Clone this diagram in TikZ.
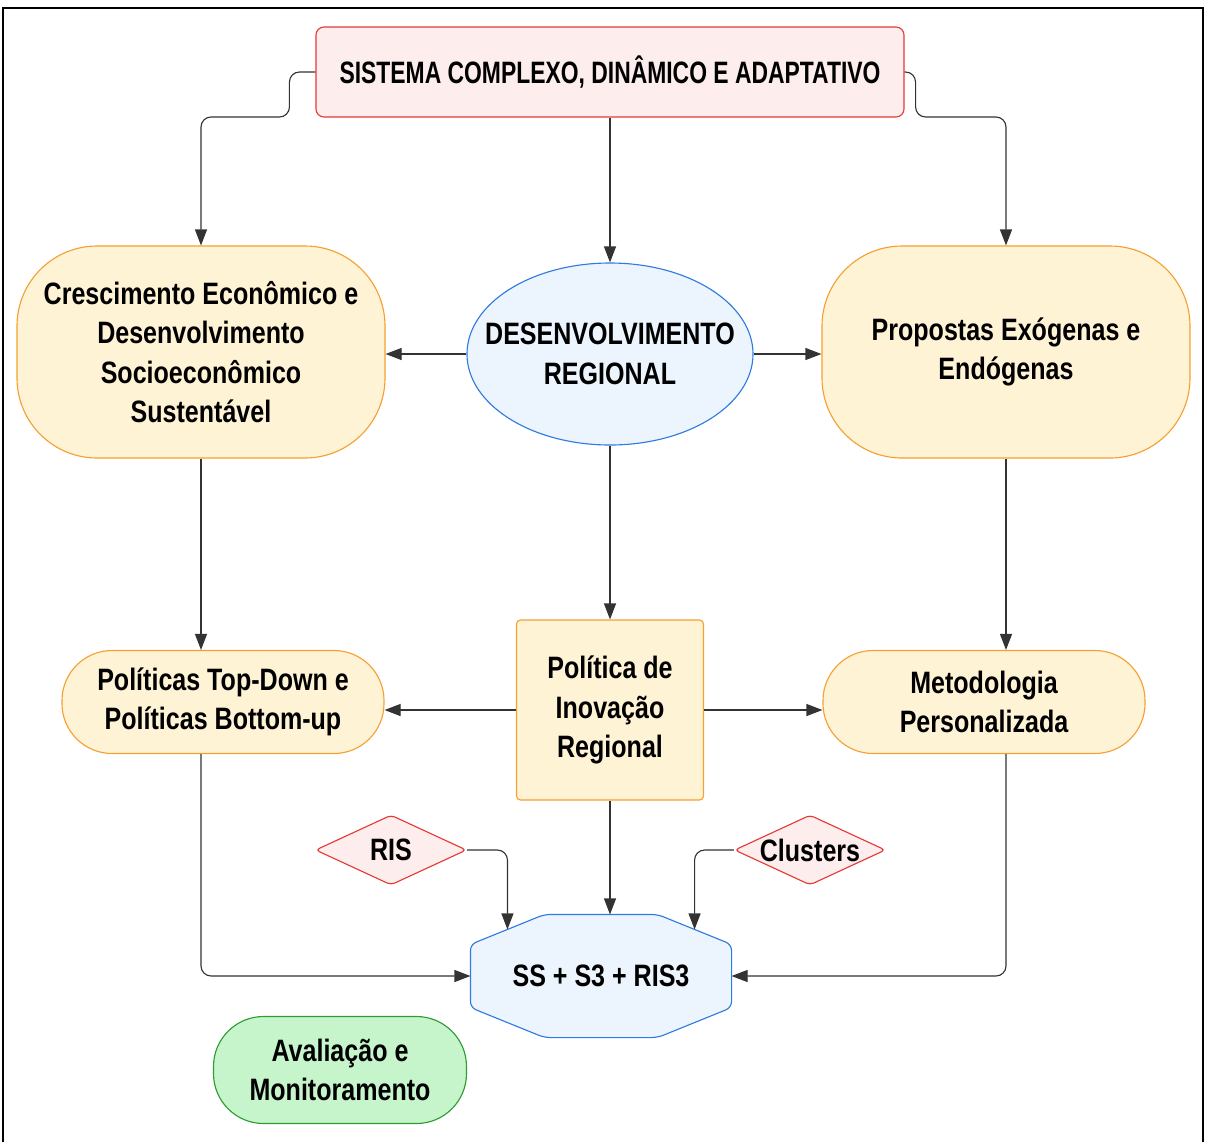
\documentclass[tikz,border=0pt]{standalone}
\usepackage{fontspec}
\setmainfont{Liberation Sans}[FakeStretch=0.81]
\newfontfamily\narrowsans{Liberation Sans}[FakeStretch=0.74]
\usetikzlibrary{shapes.geometric,arrows.meta,calc,backgrounds}

\definecolor{redline}{HTML}{E53935}
\definecolor{redfill}{HTML}{FDEDED}
\definecolor{orangeline}{HTML}{F5A033}
\definecolor{orangefill}{HTML}{FFF3D6}
\definecolor{blueline}{HTML}{2F7BE0}
\definecolor{bluefill}{HTML}{ECF4FD}
\definecolor{greenline}{HTML}{2E9B33}
\definecolor{greenfill}{HTML}{C6F5CB}
\definecolor{arrline}{HTML}{333333}

\begin{document}
\begin{tikzpicture}[x=0.25mm, y=-0.25mm,
		every node/.style = {draw, align=center, text=black, inner sep=0pt,
			line width=0.8pt, font=\fontsize{22}{28}\selectfont\bfseries},
		redbox/.style = {rectangle, rounded corners=2mm, draw=redline, fill=redfill},
		orangebox/.style = {rectangle, draw=orangeline, fill=orangefill},
		bluebox/.style = {draw=blueline, fill=bluefill, line width=0.8pt},
		greenbox/.style = {rectangle, rounded corners=12.5mm, draw=greenline, fill=greenfill},
		redchoice/.style = {diamond, aspect=2.2, rounded corners=1mm, draw=redline, fill=redfill,
			minimum width=37.75mm, minimum height=17.5mm},
		arr/.style = {draw=arrline, line width=0.8pt, rounded corners=2.5mm,
			-{Triangle[length=4mm, width=3mm]}}]

	\useasboundingbox (0,0) rectangle (1206,1141);
	\draw[line width=1.2pt] (3,1150) -- (3,8) -- (1203,8) -- (1203,1150);

	% first row
	\node[redbox, minimum width=147mm, minimum height=22.5mm] (sistema) at (610,72)
		{\narrowsans\bfseries SISTEMA COMPLEXO, DINÂMICO E ADAPTATIVO};
	% second row
	\node[orangebox, rounded corners=20mm, minimum width=92mm, minimum height=53mm]
		(crescimento) at (201,352)
		{Crescimento Econômico e\\Desenvolvimento\\Socioeconômico\\Sustentável};
	\node[bluebox, ellipse, inner xsep=-7mm, minimum width=71.5mm, minimum height=45.5mm]
		(desenvolvimento) at (610,354) {DESENVOLVIMENTO\\REGIONAL};
	\node[orangebox, rounded corners=20mm, minimum width=92mm, minimum height=53mm]
		(propostas) at (1006,352) {Propostas Exógenas e\\Endógenas};
	% third row
	\node[orangebox, rounded corners=1mm, minimum width=46.75mm, minimum height=45mm]
		(politica) at (610,710) {Política de\\Inovação\\Regional};
	\node[orangebox, rounded corners=12.5mm, minimum width=80.5mm, minimum height=25.75mm]
		(topdown) at (223,702) {Políticas Top-Down e\\Políticas Bottom-up};
	\node[orangebox, rounded corners=12.5mm, minimum width=80.5mm, minimum height=25.75mm]
		(metodologia) at (984,702) {Metodologia\\Personalizada};
	% fourth row
	\node[redchoice] (ris) at (391,850) {RIS};
	\node[redchoice] (clusters) at (810,850) {Clusters};
	\node[draw=none, minimum width=65mm, minimum height=30.5mm] (ss) at (601,976)
		{SS + S3 + RIS3};
	\begin{scope}[on background layer]
		\draw[bluebox, rounded corners=1.5mm] ([xshift=18.5mm]ss.north west)
			-- ([xshift=-18.5mm]ss.north east) -- ([yshift=-7.5mm]ss.north east)
			-- ([yshift=7.5mm]ss.south east) -- ([xshift=-18.5mm]ss.south east)
			-- ([xshift=18.5mm]ss.south west) -- ([yshift=7.5mm]ss.south west)
			-- ([yshift=-7.5mm]ss.north west) -- cycle;
	\end{scope}
	\coordinate (ssnw) at ($([xshift=18.5mm]ss.north west)!0.5!([yshift=-7.5mm]ss.north west)$);
	\coordinate (ssne) at ($([xshift=-18.5mm]ss.north east)!0.5!([yshift=-7.5mm]ss.north east)$);
	\node[greenbox, minimum width=63.25mm, minimum height=26.75mm]
		(avaliacao) at (340,1070) {Avaliação e\\Monitoramento};

	% connectors
	\draw[arr] (sistema.west) -- ++(-26,0) -- ++(0,45) -| (crescimento.north);
	\draw[arr] (sistema.east) -- ++(11,0) -- ++(0,45) -| (propostas.north);
	\draw[arr] (sistema.south) -- (desenvolvimento.north);
	\draw[arr] (desenvolvimento.west) -- (desenvolvimento.west -| crescimento.east);
	\draw[arr] (desenvolvimento.east) -- (desenvolvimento.east -| propostas.west);
	\draw[arr] (desenvolvimento.south) -- (politica.north);
	\draw[arr] (crescimento.south) -- (crescimento.south |- topdown.north);
	\draw[arr] (propostas.south) -- (propostas.south |- metodologia.north);
	\draw[arr] (politica.west) -- (politica.west -| topdown.east);
	\draw[arr] (politica.east) -- (politica.east -| metodologia.west);
	\draw[arr] (politica.south) -- (politica.south |- ss.north);
	\draw[arr] (ris.east) -| (ssnw);
	\draw[arr] (clusters.west) -| (ssne);
	\draw[arr] (crescimento.south |- topdown.south) |- (ss.west);
	\draw[arr] (propostas.south |- metodologia.south) |- (ss.east);
\end{tikzpicture}
\end{document}
